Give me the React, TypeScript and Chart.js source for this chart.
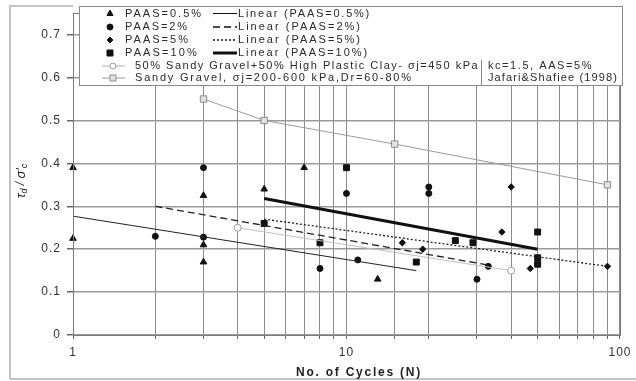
import { useEffect, useRef } from 'react';
import { Chart, registerables } from 'chart.js';

Chart.register(...registerables);

// ---------- data ----------
const xTickLabels = [1, 10, 100];
const yTickValues = [0, 0.1, 0.2, 0.3, 0.4, 0.5, 0.6, 0.7];

// PAAS = 0.5 % (triangles)
const paas05N = [1, 1, 3, 3, 3, 5, 7, 13];
const paas05Tau = [0.39, 0.225, 0.325, 0.21, 0.17, 0.34, 0.39, 0.13];
// PAAS = 2 % (circles)
const paas2N = [2, 3, 3, 8, 10, 11, 20, 20, 30, 33];
const paas2Tau = [0.23, 0.39, 0.228, 0.155, 0.33, 0.175, 0.345, 0.33, 0.13, 0.16];
// PAAS = 5 % (diamonds)
const paas5N = [16, 19, 37, 40, 47, 90];
const paas5Tau = [0.215, 0.2, 0.24, 0.345, 0.155, 0.16];
// PAAS = 10 % (squares)
const paas10N = [5, 8, 10, 18, 25, 29, 50, 50, 50];
const paas10Tau = [0.26, 0.215, 0.39, 0.17, 0.22, 0.215, 0.24, 0.18, 0.165];

// linear trend lines (end points)
const fit05N = [1, 18];
const fit05Tau = [0.277, 0.15];
const fit2N = [2, 33];
const fit2Tau = [0.3, 0.163];
const fit5N = [5, 90];
const fit5Tau = [0.27, 0.16];
const fit10N = [5, 50];
const fit10Tau = [0.318, 0.2];

// comparison series
const clayN = [4, 40];
const clayTau = [0.25, 0.15];
const gravelN = [3, 5, 15, 90];
const gravelTau = [0.55, 0.5, 0.445, 0.35];

// ---------- helpers ----------
const FONT = '"Liberation Sans", Arial, sans-serif';
const pts = (xs: number[], ys: number[]) => xs.map((x, i) => ({ x, y: ys[i] }));

function fitText(ctx: CanvasRenderingContext2D, text: string, x: number, y: number, width: number, align: CanvasTextAlign = 'left') {
  ctx.save();
  (ctx as any).letterSpacing = '0px';
  const w = ctx.measureText(text).width;
  const extra = (width - w) / Math.max(1, text.length);
  (ctx as any).letterSpacing = extra.toFixed(2) + 'px';
  ctx.textAlign = align;
  ctx.fillText(text, x, y);
  ctx.restore();
}

function marker(ctx: CanvasRenderingContext2D, kind: string, x: number, y: number, fill: string, stroke: string) {
  ctx.save();
  ctx.fillStyle = fill;
  ctx.strokeStyle = stroke;
  ctx.lineWidth = 1;
  ctx.beginPath();
  if (kind === 'triangle') {
    ctx.moveTo(x, y - 3.5);
    ctx.lineTo(x + 3, y + 2);
    ctx.lineTo(x - 3, y + 2);
    ctx.closePath();
  } else if (kind === 'circle') {
    ctx.arc(x, y, 3, 0, Math.PI * 2);
  } else if (kind === 'diamond') {
    ctx.moveTo(x, y - 3);
    ctx.lineTo(x + 3, y);
    ctx.lineTo(x, y + 3);
    ctx.lineTo(x - 3, y);
    ctx.closePath();
  } else {
    ctx.rect(x - 3, y - 3, 6, 6);
  }
  ctx.fill();
  ctx.stroke();
  ctx.restore();
}

const decor = {
  id: 'decor',
  beforeDraw(chart: any) {
    const ctx = chart.ctx as CanvasRenderingContext2D;
    ctx.save();
    ctx.fillStyle = '#ffffff';
    ctx.fillRect(0, 0, chart.width, chart.height);
    ctx.restore();
    (ctx as any).letterSpacing = '1px';
  },
  afterDraw(chart: any) {
    const ctx = chart.ctx as CanvasRenderingContext2D;
    const a = chart.chartArea;
    ctx.save();
    (ctx as any).letterSpacing = '0px';

    // plot border
    ctx.strokeStyle = '#7a7a7a';
    ctx.lineWidth = 1;
    ctx.strokeRect(Math.round(a.left) + 0.5, Math.round(a.top) + 0.5, Math.round(a.right - a.left), Math.round(a.bottom - a.top));

    // outer chart frame
    ctx.strokeStyle = '#c4c4c4';
    ctx.lineWidth = 2;
    ctx.beginPath();
    ctx.moveTo(10, 379);
    ctx.lineTo(10, 6);
    ctx.lineTo(a.left, 6);
    ctx.moveTo(10, 379);
    ctx.lineTo(636, 379);
    ctx.stroke();

    // legend box
    ctx.fillStyle = '#ffffff';
    ctx.fillRect(79, 6, 543, 79);
    ctx.strokeStyle = '#8a8a8a';
    ctx.lineWidth = 1;
    ctx.strokeRect(79.5, 6.5, 543, 79);
    ctx.beginPath();
    ctx.moveTo(481.5, 60);
    ctx.lineTo(481.5, 85);
    ctx.stroke();

    ctx.font = `11px ${FONT}`;
    ctx.textBaseline = 'middle';
    ctx.fillStyle = '#2a2a2a';
    const rows = [13.5, 27, 40, 53, 66, 78];
    const kinds = ['triangle', 'circle', 'diamond', 'square'];
    const names = ['PAAS=0.5%', 'PAAS=2%', 'PAAS=5%', 'PAAS=10%'];
    const nameW = [78, 64, 65, 74];
    const linW = [133, 124, 124, 131];
    const dashes = [[], [7, 4], [2, 2], []];
    const widths = [1, 1.3, 1.3, 3];
    for (let i = 0; i < 4; i++) {
      const y = rows[i];
      marker(ctx, kinds[i], 110, y, '#111', '#111');
      ctx.fillStyle = '#2a2a2a';
      fitText(ctx, names[i], 125, y, nameW[i]);
      ctx.save();
      ctx.strokeStyle = '#111';
      ctx.lineWidth = widths[i];
      ctx.setLineDash(dashes[i]);
      ctx.beginPath();
      ctx.moveTo(213, y);
      ctx.lineTo(237, y);
      ctx.stroke();
      ctx.restore();
      fitText(ctx, `Linear (${names[i]})`, 238, y, linW[i]);
    }
    // grey series entries
    ctx.save();
    ctx.strokeStyle = '#b0b0b0';
    ctx.lineWidth = 1;
    ctx.beginPath();
    ctx.moveTo(102, rows[4]);
    ctx.lineTo(125, rows[4]);
    ctx.stroke();
    ctx.strokeStyle = '#9a9a9a';
    ctx.beginPath();
    ctx.moveTo(102, rows[5]);
    ctx.lineTo(125, rows[5]);
    ctx.stroke();
    ctx.restore();
    marker(ctx, 'circle', 113, rows[4], '#ffffff', '#a0a0a0');
    marker(ctx, 'square', 113, rows[5], '#e2e2e2', '#8a8a8a');
    ctx.fillStyle = '#2a2a2a';
    fitText(ctx, '50% Sandy Gravel+50% High Plastic Clay- σj=450 kPa', 135, rows[4], 344);
    fitText(ctx, 'Sandy Gravel, σj=200-600 kPa,Dr=60-80%', 135, rows[5], 278);
    fitText(ctx, 'kc=1.5, AAS=5%', 488, rows[4], 105);
    fitText(ctx, 'Jafari&Shafiee (1998)', 488, rows[5], 130);

    // x axis title
    ctx.font = `bold 12px ${FONT}`;
    ctx.fillStyle = '#222';
    fitText(ctx, 'No. of Cycles (N)', 359, 373, 126, 'center');

    // y axis title (rotated)
    ctx.save();
    ctx.translate(21, 181);
    ctx.rotate(-Math.PI / 2);
    const parts: [string, number, number][] = [
      ['τ', 13, 0],
      ['d', 9, 3],
      [' / ', 12, 0],
      ["σ'", 13, 0],
      ['c', 9, 3],
    ];
    let total = 0;
    for (const [t, s] of parts) {
      ctx.font = `italic ${s}px ${FONT}`;
      total += ctx.measureText(t).width;
    }
    let cx = -total / 2;
    ctx.textAlign = 'left';
    ctx.fillStyle = '#222';
    for (const [t, s, dy] of parts) {
      ctx.font = `italic ${s}px ${FONT}`;
      ctx.fillText(t, cx, dy);
      cx += ctx.measureText(t).width;
    }
    ctx.restore();

    ctx.restore();
  },
};

export default function App() {
  const ref = useRef<HTMLCanvasElement>(null);

  useEffect(() => {
    if (!ref.current) return;
    const chart = new Chart(ref.current, {
      type: 'scatter',
      data: {
        datasets: [
          {
            label: 'Sandy Gravel',
            data: pts(gravelN, gravelTau),
            showLine: true,
            borderColor: '#9a9a9a',
            borderWidth: 1,
            pointStyle: 'rect',
            pointRadius: 4.5,
            pointBackgroundColor: '#e2e2e2',
            pointBorderColor: '#8a8a8a',
            pointBorderWidth: 1,
            clip: false,
          },
          {
            label: '50% Sandy Gravel+50% High Plastic Clay',
            data: pts(clayN, clayTau),
            showLine: true,
            borderColor: '#c0c0c0',
            borderWidth: 1,
            pointStyle: 'circle',
            pointRadius: 3.5,
            pointBackgroundColor: '#ffffff',
            pointBorderColor: '#a0a0a0',
            pointBorderWidth: 1,
            clip: false,
          },
          {
            label: 'Linear (PAAS=0.5%)',
            data: pts(fit05N, fit05Tau),
            showLine: true,
            borderColor: '#222',
            borderWidth: 1,
            pointRadius: 0,
          },
          {
            label: 'Linear (PAAS=2%)',
            data: pts(fit2N, fit2Tau),
            showLine: true,
            borderColor: '#222',
            borderWidth: 1.3,
            borderDash: [7, 4],
            pointRadius: 0,
          },
          {
            label: 'Linear (PAAS=5%)',
            data: pts(fit5N, fit5Tau),
            showLine: true,
            borderColor: '#222',
            borderWidth: 1.3,
            borderDash: [2, 2],
            pointRadius: 0,
          },
          {
            label: 'Linear (PAAS=10%)',
            data: pts(fit10N, fit10Tau),
            showLine: true,
            borderColor: '#111',
            borderWidth: 3,
            pointRadius: 0,
          },
          {
            label: 'PAAS=0.5%',
            data: pts(paas05N, paas05Tau),
            pointStyle: 'triangle',
            pointRadius: 3.8,
            pointBackgroundColor: '#111',
            pointBorderColor: '#111',
            clip: false,
          },
          {
            label: 'PAAS=2%',
            data: pts(paas2N, paas2Tau),
            pointStyle: 'circle',
            pointRadius: 3,
            pointBackgroundColor: '#111',
            pointBorderColor: '#111',
            clip: false,
          },
          {
            label: 'PAAS=5%',
            data: pts(paas5N, paas5Tau),
            pointStyle: 'rectRot',
            pointRadius: 3.2,
            pointBackgroundColor: '#111',
            pointBorderColor: '#111',
            clip: false,
          },
          {
            label: 'PAAS=10%',
            data: pts(paas10N, paas10Tau),
            pointStyle: 'rect',
            pointRadius: 4.2,
            pointBackgroundColor: '#111',
            pointBorderColor: '#111',
            clip: false,
          },
        ],
      },
      options: {
        animation: false,
        responsive: false,
        maintainAspectRatio: false,
        layout: { padding: { top: 6, right: 13, left: 0, bottom: 0 } },
        plugins: {
          legend: { display: false },
          tooltip: { enabled: false },
        },
        scales: {
          x: {
            type: 'logarithmic',
            min: 1,
            max: 100,
            afterFit: (s: any) => {
              s.height = 46;
            },
            border: { display: true, color: '#666', width: 1 },
            grid: {
              color: '#8c8c8c',
              lineWidth: 1,
              drawTicks: true,
              tickLength: 4,
              tickColor: '#666',
            },
            ticks: {
              autoSkip: false,
              maxRotation: 0,
              minRotation: 0,
              padding: 6,
              color: '#333',
              font: { family: FONT, size: 12 },
              callback: (v: any) => (xTickLabels.includes(Number(v)) ? String(v) : ''),
            },
          },
          y: {
            type: 'linear',
            min: 0,
            max: 0.75,
            afterFit: (s: any) => {
              s.width = 73;
            },
            border: { display: true, color: '#666', width: 1 },
            grid: {
              color: '#9a9a9a',
              lineWidth: 1.5,
              drawTicks: true,
              tickLength: 6,
              tickColor: '#666',
            },
            ticks: {
              stepSize: 0.1,
              includeBounds: false,
              padding: 6,
              color: '#333',
              font: { family: FONT, size: 12 },
              callback: (v: any) => {
                const n = Number(v);
                const hit = yTickValues.find((t) => Math.abs(t - n) < 1e-6);
                if (hit === undefined) return '';
                return hit === 0 ? '0' : hit.toFixed(1);
              },
            },
          },
        },
      },
      plugins: [decor],
    } as any);
    return () => chart.destroy();
  }, []);

  return (
    <div style={{ position: 'fixed', left: 0, top: 0, width: 636, height: 381, background: '#fff' }}>
      <canvas ref={ref} width={636} height={381} style={{ display: 'block', width: 636, height: 381 }} />
    </div>
  );
}
